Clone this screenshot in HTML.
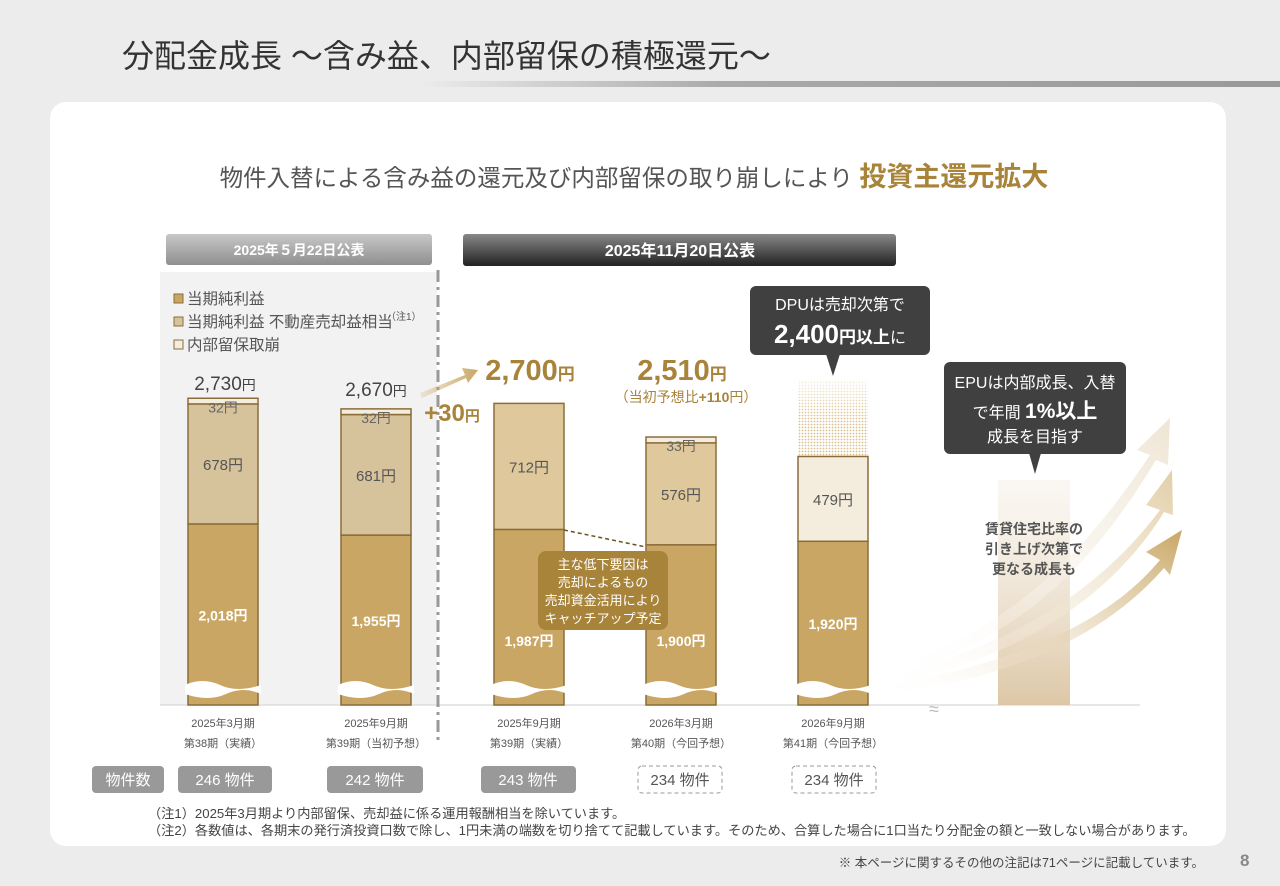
<!DOCTYPE html>
<html><head><meta charset="utf-8"><style>
body{margin:0;width:1280px;height:886px;overflow:hidden;background:#ececec;font-family:"Liberation Sans","Noto Sans CJK JP",sans-serif;}
svg{position:absolute;left:0;top:0}
text{font-family:"Liberation Sans","Noto Sans CJK JP",sans-serif}
</style></head><body>
<svg width="1280" height="886" viewBox="0 0 1280 886">
<defs>
<linearGradient id="tl" x1="0" x2="1"><stop offset="0" stop-color="#ececec"/><stop offset="0.35" stop-color="#aaa"/><stop offset="1" stop-color="#999"/></linearGradient>
<linearGradient id="hg1" x1="0" y1="0" x2="0" y2="1"><stop offset="0" stop-color="#c8c8c8"/><stop offset="1" stop-color="#8f8f8f"/></linearGradient>
<linearGradient id="hg2" x1="0" y1="0" x2="0" y2="1"><stop offset="0" stop-color="#888"/><stop offset="1" stop-color="#222"/></linearGradient>
<linearGradient id="ar" x1="0" x2="1"><stop offset="0" stop-color="#c9a664" stop-opacity="0.2"/><stop offset="1" stop-color="#c9a664"/></linearGradient>
<linearGradient id="col" x1="0" y1="0" x2="0" y2="1"><stop offset="0" stop-color="#f3ebe0" stop-opacity="0.4"/><stop offset="1" stop-color="#ddc7a6"/></linearGradient>
<linearGradient id="a1" x1="0" x2="1" y1="1" y2="0"><stop offset="0" stop-color="#fff" stop-opacity="0"/><stop offset="1" stop-color="#c9a664"/></linearGradient>
<linearGradient id="a2" x1="0" x2="1" y1="1" y2="0"><stop offset="0" stop-color="#fff" stop-opacity="0"/><stop offset="1" stop-color="#e2cfa8"/></linearGradient>
<linearGradient id="a3" x1="0" x2="1" y1="1" y2="0"><stop offset="0" stop-color="#fff" stop-opacity="0"/><stop offset="1" stop-color="#efe5d4"/></linearGradient>
<pattern id="dots" width="3" height="3" patternUnits="userSpaceOnUse"><rect width="3" height="3" fill="#fff"/><circle cx="1.5" cy="1.5" r="0.9" fill="#d9bf8c"/></pattern>
<linearGradient id="fade" x1="0" y1="0" x2="0" y2="1"><stop offset="0" stop-color="#fff" stop-opacity="0.8"/><stop offset="1" stop-color="#fff" stop-opacity="0"/></linearGradient>
</defs>
<text x="122" y="67" font-size="32" fill="#333">分配金成長 ～含み益、内部留保の積極還元～</text>
<rect x="420" y="81" width="860" height="6" fill="url(#tl)"/>
<rect x="50" y="102" width="1176" height="744" rx="16" fill="#fff"/>
<text x="634" y="186" font-size="23.5" fill="#555" text-anchor="middle">物件入替による含み益の還元及び内部留保の取り崩しにより <tspan font-size="27" font-weight="bold" fill="#a8833a">投資主還元拡大</tspan></text>
<rect x="160" y="272" width="277" height="433" fill="#f2f2f2"/>
<rect x="166" y="234" width="266" height="31" rx="3" fill="url(#hg1)"/>
<text x="299" y="255" font-size="14" font-weight="bold" fill="#fff" text-anchor="middle">2025年５月22日公表</text>
<rect x="463" y="234" width="433" height="32" rx="3" fill="url(#hg2)"/>
<text x="680" y="256" font-size="16" font-weight="bold" fill="#fff" text-anchor="middle">2025年11月20日公表</text>
<g font-size="15.5" fill="#555">
<rect x="174" y="294" width="9" height="9" fill="#c9a664" stroke="#8b6d3a"/><text x="187" y="304">当期純利益</text>
<rect x="174" y="317" width="9" height="9" fill="#d6c29b" stroke="#8b6d3a"/><text x="187" y="327">当期純利益 不動産売却益相当</text><text x="386" y="320" font-size="10">（注1）</text>
<rect x="174" y="340" width="9" height="9" fill="#f4ecdd" stroke="#8b6d3a"/><text x="187" y="350">内部留保取崩</text>
</g>
<line x1="160" y1="705" x2="1140" y2="705" stroke="#ddd" stroke-width="1.5"/>
<line x1="438" y1="270" x2="438" y2="742" stroke="#999" stroke-width="3" stroke-dasharray="12,5,3,5"/>
<rect x="798" y="380" width="70" height="76" fill="url(#dots)"/>
<rect x="798" y="380" width="70" height="40" fill="url(#fade)"/>
<rect x="998" y="480" width="72" height="225" fill="url(#col)"/>
<g>
<path d="M870,672 C1000,640 1080,560 1150,455 L1137,450 L1170,418 L1168,465 L1156,460 C1090,570 1010,650 870,680Z" fill="url(#a3)"/>
<path d="M870,680 C1010,650 1100,590 1160,510 L1146,505 L1172,470 L1173,515 L1164,512 C1110,600 1010,665 870,688Z" fill="url(#a2)"/>
<path d="M870,688 C1020,665 1110,620 1160,560 L1146,552 L1182,530 L1170,575 L1164,568 C1110,630 1020,680 870,696Z" fill="url(#a1)"/>
</g>
<text x="1034" y="534" font-size="14" font-weight="bold" fill="#555" text-anchor="middle">賃貸住宅比率の</text>
<text x="1034" y="554" font-size="14" font-weight="bold" fill="#555" text-anchor="middle">引き上げ次第で</text>
<text x="1034" y="574" font-size="14" font-weight="bold" fill="#555" text-anchor="middle">更なる成長も</text>
<text x="934" y="715" font-size="18" fill="#bbb" text-anchor="middle">≈</text>
<g id="bars"></g>
<path d="M564,530 L646,547" stroke="#6b5023" stroke-width="1.5" stroke-dasharray="4,3"/>
<rect x="538" y="551" width="130" height="79" rx="8" fill="#a8833a"/>
<g font-size="13" fill="#fff" text-anchor="middle"><text x="603" y="569">主な低下要因は</text><text x="603" y="587">売却によるもの</text><text x="603" y="605">売却資金活用により</text><text x="603" y="623">キャッチアップ予定</text></g>
<g>
<text x="225" y="390" font-size="19" fill="#444" text-anchor="middle">2,730<tspan font-size="14">円</tspan></text>
<text x="376" y="396" font-size="19" fill="#444" text-anchor="middle">2,670<tspan font-size="14">円</tspan></text>
<text x="530" y="380" font-size="29" font-weight="bold" fill="#a8833a" text-anchor="middle">2,700<tspan font-size="17">円</tspan></text>
<text x="682" y="380" font-size="29" font-weight="bold" fill="#a8833a" text-anchor="middle">2,510<tspan font-size="17">円</tspan></text>
<text x="686" y="402" font-size="14" fill="#a8833a" text-anchor="middle">（当初予想比<tspan font-weight="bold">+110</tspan>円）</text>
<text x="452" y="421" font-size="24" font-weight="bold" fill="#a8833a" text-anchor="middle">+30<tspan font-size="15">円</tspan></text>
</g>
<path d="M420,393 L465,375 L462,368 L478,370 L468,383 L466,378 L422,398Z" fill="url(#ar)"/>
<g>
<rect x="750" y="286" width="180" height="69" rx="6" fill="#404040"/>
<path d="M826,354 L840,354 L833,376Z" fill="#404040"/>
<text x="840" y="310" font-size="16" fill="#fff" text-anchor="middle">DPUは売却次第で</text>
<text x="840" y="343" font-size="26" font-weight="bold" fill="#fff" text-anchor="middle">2,400<tspan font-size="17">円以上</tspan><tspan font-size="16" font-weight="normal">に</tspan></text>
</g>
<g>
<rect x="944" y="362" width="182" height="92" rx="6" fill="#404040"/>
<path d="M1029,453 L1041,453 L1035,474Z" fill="#404040"/>
<text x="1035" y="388" font-size="16" fill="#fff" text-anchor="middle">EPUは内部成長、入替</text>
<text x="1035" y="418" font-size="16" fill="#fff" text-anchor="middle">で年間 <tspan font-size="21" font-weight="bold">1%以上</tspan></text>
<text x="1035" y="442" font-size="16" fill="#fff" text-anchor="middle">成長を目指す</text>
</g>
<g font-size="11" fill="#555" text-anchor="middle">
<text x="223" y="727">2025年3月期</text><text x="223" y="747">第38期（実績）</text>
<text x="376" y="727">2025年9月期</text><text x="376" y="747">第39期（当初予想）</text>
<text x="529" y="727">2025年9月期</text><text x="529" y="747">第39期（実績）</text>
<text x="681" y="727">2026年3月期</text><text x="681" y="747">第40期（今回予想）</text>
<text x="833" y="727">2026年9月期</text><text x="833" y="747">第41期（今回予想）</text>
</g>
<g font-size="15" text-anchor="middle">
<rect x="92" y="766" width="72" height="27" rx="4" fill="#999"/><text x="128" y="785" fill="#fff">物件数</text>
<rect x="178" y="766" width="94" height="27" rx="4" fill="#999"/><text x="225" y="785" fill="#fff">246 物件</text>
<rect x="327" y="766" width="96" height="27" rx="4" fill="#999"/><text x="375" y="785" fill="#fff">242 物件</text>
<rect x="481" y="766" width="95" height="27" rx="4" fill="#999"/><text x="528" y="785" fill="#fff">243 物件</text>
<rect x="638" y="766" width="84" height="27" rx="4" fill="#fff" stroke="#999" stroke-dasharray="4,3"/><text x="680" y="785" fill="#555">234 物件</text>
<rect x="792" y="766" width="84" height="27" rx="4" fill="#fff" stroke="#999" stroke-dasharray="4,3"/><text x="834" y="785" fill="#555">234 物件</text>
</g>
<g font-size="13.2" fill="#444">
<text x="148" y="818">（注1）2025年3月期より内部留保、売却益に係る運用報酬相当を除いています。</text>
<text x="148" y="835">（注2）各数値は、各期末の発行済投資口数で除し、1円未満の端数を切り捨てて記載しています。そのため、合算した場合に1口当たり分配金の額と一致しない場合があります。</text>
</g>
<text x="1204" y="867" font-size="12.5" fill="#444" text-anchor="end">※ 本ページに関するその他の注記は71ページに記載しています。</text>
<text x="1240" y="866" font-size="17" font-weight="bold" fill="#888">8</text>
</svg>
<script>
const categories=["38期実績","39期当初予想","39期実績","40期今回予想","41期今回予想"];
const netIncome=[2018,1955,1987,1900,1920];
const saleGain=[678,681,712,576,479];
const reserve=[32,32,0,33,0];
const barX=[188,341,494,646,798];
const midColors=["#d6c29b","#d6c29b","#dfc99c","#dfc99c","#f4ecdd"];
const base=705,off=995,k=0.177;
function y(v){return base-(v-off)*k;}
const ns="http://www.w3.org/2000/svg";
const g=document.getElementById('bars');
function mk(t,a){const e=document.createElementNS(ns,t);for(const n in a)e.setAttribute(n,a[n]);g.appendChild(e);return e;}
categories.forEach((c,i)=>{
  const x=barX[i],w=70;
  const y0=y(netIncome[i]),y1=y(netIncome[i]+saleGain[i]),y2=y(netIncome[i]+saleGain[i]+reserve[i]);
  const b=mk('rect',{x:x,y:y0,width:w,height:base-y0,fill:'#c9a664',stroke:'#8b6d3a','stroke-width':1.5});
  
  
  const m=mk('rect',{x:x,y:y1,width:w,height:y0-y1,fill:midColors[i],stroke:'#8b6d3a','stroke-width':1.5});
  
  
  if(reserve[i]>0){
    const r=mk('rect',{x:x,y:y2,width:w,height:y1-y2,fill:'#f4ecdd',stroke:'#8b6d3a','stroke-width':1.5});
    
    
    const rt=mk('text',{x:x+35,y:y2+14,'font-size':14,fill:'#666','text-anchor':'middle'});rt.textContent=reserve[i]+'円';
    
    
  }
  const wv=mk('path',{d:`M${x-3},${base-20} q${w/4},-8 ${w/2},0 t${w/2+6},0 v9 q-${w/4},-8 -${w/2},0 t-${w/2+6},0z`,fill:'#fff'});
  
  
  let ly=(y0+base)/2+6;
  if(x+w>538&&x<668) ly=Math.max(ly,646);
  const t1=mk('text',{x:x+35,y:ly,'font-size':14,'font-weight':'bold',fill:'#fff','text-anchor':'middle'});t1.textContent=netIncome[i].toLocaleString('en-US')+'円';
  
  
  const t2=mk('text',{x:x+35,y:(y0+y1)/2+6,'font-size':15,fill:'#555','text-anchor':'middle'});t2.textContent=saleGain[i]+'円';
  
  
});
</script>
</body></html>
